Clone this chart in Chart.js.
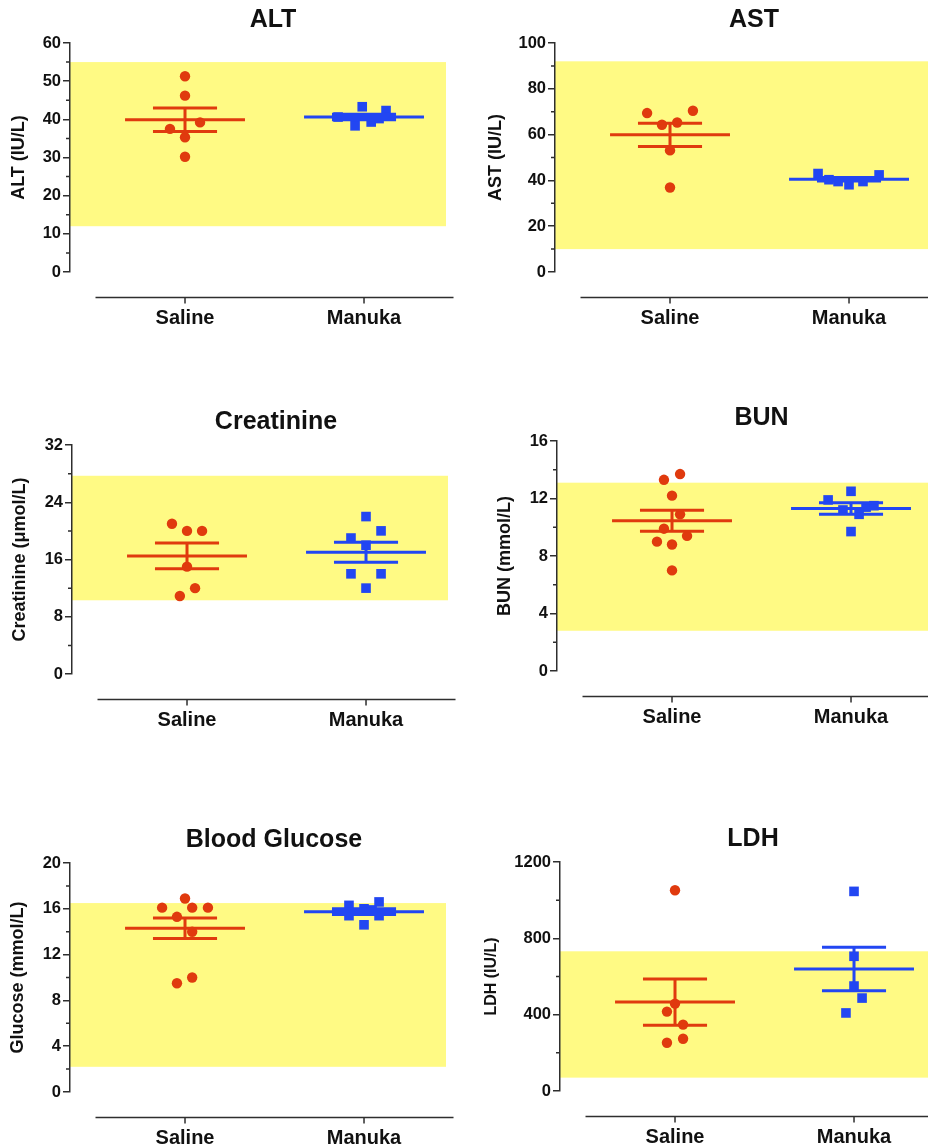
<!DOCTYPE html>
<html>
<head>
<meta charset="utf-8">
<script src="https://cdn.jsdelivr.net/npm/chart.js@4.4.1/dist/chart.umd.min.js"></script>
<style>
  body { margin: 0; background: #fff; }
  #page { position: relative; width: 928px; height: 1148px; overflow: hidden; }
  #page canvas { position: absolute; }
</style>
</head>
<body>
<div id="page"></div>
<script>
// DATA
const categories = ["Saline", "Manuka"];
const panelTitles = ["ALT", "AST", "Creatinine", "BUN", "Blood Glucose", "LDH"];
const yTitles = ["ALT (IU/L)", "AST (IU/L)", "Creatinine (\u03bcmol/L)", "BUN (mmol/L)", "Glucose (mmol/L)", "LDH (IU/L)"];
const yMax = [60, 100, 32, 16, 20, 1200];
const yStep = [10, 20, 8, 4, 4, 400];
const refLow = [12, 10, 10.3, 2.8, 2.2, 70];
const refHigh = [55, 92, 27.7, 13.1, 16.5, 732];

const altSaline = [51.3, 46.2, 39.2, 37.5, 35.3, 30.2];
const altManuka = [40.6, 38.3, 43.3, 39.3, 42.3, 40.2];
const astSaline = [69.4, 70.4, 64.3, 65.3, 53.1, 36.9];
const astManuka = [43.0, 40.3, 39.5, 38.1, 39.5, 42.4];
const creatSaline = [21.0, 20.0, 20.0, 15.0, 12.0, 10.9];
const creatManuka = [22.0, 20.0, 19.0, 18.0, 14.0, 14.0, 12.0];
const bunSaline = [13.3, 13.7, 12.2, 10.9, 9.9, 9.4, 9.0, 8.8, 7.0];
const bunManuka = [12.5, 11.9, 9.7, 11.4, 10.9, 11.5, 11.2];
const glucSaline = [16.9, 16.1, 16.1, 16.1, 15.3, 14.0, 10.0, 9.5];
const glucManuka = [16.3, 15.4, 16.0, 14.6, 16.6, 15.4, 15.9];
const ldhSaline = [1052, 458, 416, 348, 274, 253];
const ldhManuka = [1046, 706, 550, 487, 409];

// mean and SEM per group (Saline, Manuka)
const altMean = [39.9, 40.6], altSem = [3.1, 0.7];
const astMean = [59.9, 40.5], astSem = [5.1, 0.8];
const creatMean = [16.5, 17.0], creatSem = [1.8, 1.4];
const bunMean = [10.45, 11.3], bunSem = [0.73, 0.4];
const glucMean = [14.3, 15.75], glucSem = [0.9, 0.25];
const ldhMean = [466, 639], ldhSem = [121, 114];

// horizontal scatter of the points, in category units
const altJitter = [[0, 0, 0.084, -0.084, 0, 0], [-0.145, -0.05, -0.01, 0.04, 0.123, 0.084]];
const astJitter = [[-0.128, 0.128, -0.045, 0.04, 0, 0], [-0.173, -0.112, -0.061, 0, 0.078, 0.168]];
const creatJitter = [[-0.084, 0, 0.084, 0, 0.045, -0.04], [0, 0.084, -0.084, 0, -0.084, 0.084, 0]];
const bunJitter = [[-0.045, 0.045, 0, 0.045, -0.045, 0.084, -0.084, 0, 0], [0, -0.128, 0, 0.084, 0.045, 0.128, -0.045]];
const glucJitter = [[0, -0.128, 0.04, 0.128, -0.045, 0.04, 0.04, -0.045], [-0.084, -0.084, 0, 0, 0.084, 0.084, 0.045]];
const ldhJitter = [[0, 0, -0.045, 0.045, 0.045, -0.045], [0, 0, 0, 0.045, -0.045]];

const series = [
  [altSaline, altManuka], [astSaline, astManuka], [creatSaline, creatManuka],
  [bunSaline, bunManuka], [glucSaline, glucManuka], [ldhSaline, ldhManuka]
];
const means = [altMean, astMean, creatMean, bunMean, glucMean, ldhMean];
const sems = [altSem, astSem, creatSem, bunSem, glucSem, ldhSem];
const jitters = [altJitter, astJitter, creatJitter, bunJitter, glucJitter, ldhJitter];

// LAYOUT (page pixels)
const panelLayout = [
  { axisX: 70, top: 43, h: 229, right: 120, titleGap: 51, ySize: 18 },
  { axisX: 555, top: 43, h: 229, right: 112, titleGap: 59, ySize: 18 },
  { axisX: 72, top: 445, h: 229, right: 122, titleGap: 52, ySize: 18 },
  { axisX: 557, top: 441, h: 230, right: 123, titleGap: 52, ySize: 18 },
  { axisX: 70, top: 863, h: 229, right: 122, titleGap: 52, ySize: 18 },
  { axisX: 560, top: 862, h: 229, right: 100, titleGap: 68, ySize: 16 }
];

const colors = ["#E03A0E", "#2246F2"];
const bandColor = "#FFFA84";
const axisColor = "#2e2e2e";
const textColor = "#111";

Chart.defaults.font.family = "'Liberation Sans', Arial, Helvetica, sans-serif";
Chart.defaults.color = textColor;

const Y_W = 90, PLOT_W = 376, TITLE_BOX = 43, CANVAS_H = 342;

// band, minor ticks and the detached x axis line
const decor = {
  id: "decor",
  beforeDraw(chart, args, opts) {
    const { ctx, chartArea: a, scales: { y } } = chart;
    const top = y.getPixelForValue(refHigh[opts.i]);
    const bot = y.getPixelForValue(refLow[opts.i]);
    ctx.save();
    ctx.fillStyle = bandColor;
    ctx.fillRect(a.left, top, a.right - a.left, bot - top);
    ctx.restore();
  },
  afterDraw(chart, args, opts) {
    const { ctx, chartArea: a, scales: { x, y } } = chart;
    ctx.save();
    ctx.strokeStyle = axisColor;
    ctx.lineWidth = 1.5;
    ctx.beginPath();
    const step = yStep[opts.i];
    for (let v = step / 2; v < yMax[opts.i]; v += step) {
      const py = y.getPixelForValue(v);
      ctx.moveTo(a.left, py);
      ctx.lineTo(a.left - 4, py);
    }
    const ly = a.bottom + 25.5;
    ctx.moveTo(x.getPixelForValue(0.5), ly);
    ctx.lineTo(x.getPixelForValue(2.5), ly);
    categories.forEach((c, k) => {
      const px = x.getPixelForValue(k + 1);
      ctx.moveTo(px, ly);
      ctx.lineTo(px, ly + 6);
    });
    ctx.stroke();
    ctx.restore();
  }
};

function makePanel(i) {
  const L = panelLayout[i];
  const canvas = document.createElement("canvas");
  canvas.width = Y_W + PLOT_W + L.right;
  canvas.height = CANVAS_H;
  canvas.style.left = (L.axisX - Y_W) + "px";
  canvas.style.top = (L.top - TITLE_BOX) + "px";
  document.getElementById("page").appendChild(canvas);

  const datasets = [];
  categories.forEach((cat, g) => {
    const c = g + 1;
    const m = means[i][g], s = sems[i][g];
    datasets.push({
      type: "line",
      label: cat + " mean",
      data: [
        { x: c - 0.335, y: m }, { x: c + 0.335, y: m }, { x: c, y: null },
        { x: c - 0.179, y: m + s }, { x: c + 0.179, y: m + s }, { x: c, y: null },
        { x: c - 0.179, y: m - s }, { x: c + 0.179, y: m - s }, { x: c, y: null },
        { x: c, y: m + s }, { x: c, y: m - s }
      ],
      borderColor: colors[g],
      borderWidth: 3,
      pointRadius: 0,
      spanGaps: false,
      tension: 0
    });
    datasets.push({
      type: "scatter",
      label: cat,
      data: series[i][g].map((v, k) => ({ x: c + jitters[i][g][k], y: v })),
      pointStyle: g === 0 ? "circle" : "rect",
      pointRadius: g === 0 ? 5.2 : 6.8,
      backgroundColor: colors[g],
      borderWidth: 0
    });
  });

  const yTitleLine = L.ySize * 1.2;

  new Chart(canvas, {
    type: "scatter",
    data: { datasets },
    plugins: [decor],
    options: {
      responsive: false,
      animation: false,
      devicePixelRatio: 1,
      layout: { padding: 0 },
      plugins: {
        legend: { display: false },
        tooltip: { enabled: false },
        decor: { i },
        title: {
          display: true,
          text: panelTitles[i],
          color: textColor,
          font: { size: 25, weight: "bold" },
          padding: { top: 5.5, bottom: 7.5 }
        }
      },
      scales: {
        x: {
          type: "linear",
          min: 0.3575,
          max: 2.458,
          bounds: "data",
          grid: { display: false, drawTicks: false },
          border: { display: false },
          afterBuildTicks: (s) => { s.ticks = categories.map((c, k) => ({ value: k + 1 })); },
          afterFit: (s) => { s.height = CANVAS_H - TITLE_BOX - L.h; },
          ticks: {
            padding: 34,
            autoSkip: false,
            maxRotation: 0,
            color: textColor,
            font: { size: 20, weight: "bold" },
            callback: (v) => categories[v - 1]
          }
        },
        y: {
          position: "left",
          min: 0,
          max: yMax[i],
          afterFit: (s) => { s.width = Y_W; },
          grid: { drawOnChartArea: false, drawTicks: true, tickLength: 7, color: axisColor, lineWidth: 1.5 },
          border: { display: true, color: axisColor, width: 1.5 },
          ticks: {
            stepSize: yStep[i],
            padding: 2,
            color: textColor,
            font: { size: 16.5, weight: "bold" },
            callback: (v) => String(v)
          },
          title: {
            display: true,
            text: yTitles[i],
            color: textColor,
            font: { size: L.ySize, weight: "bold" },
            padding: { top: Y_W - L.titleGap - yTitleLine / 2, bottom: 0 }
          }
        },
        pad: {
          position: "right",
          display: true,
          grid: { display: false },
          border: { display: false },
          ticks: { display: false },
          afterFit: (s) => { s.width = L.right; }
        }
      }
    }
  });
}

for (let i = 0; i < panelTitles.length; i++) makePanel(i);
</script>
</body>
</html>
